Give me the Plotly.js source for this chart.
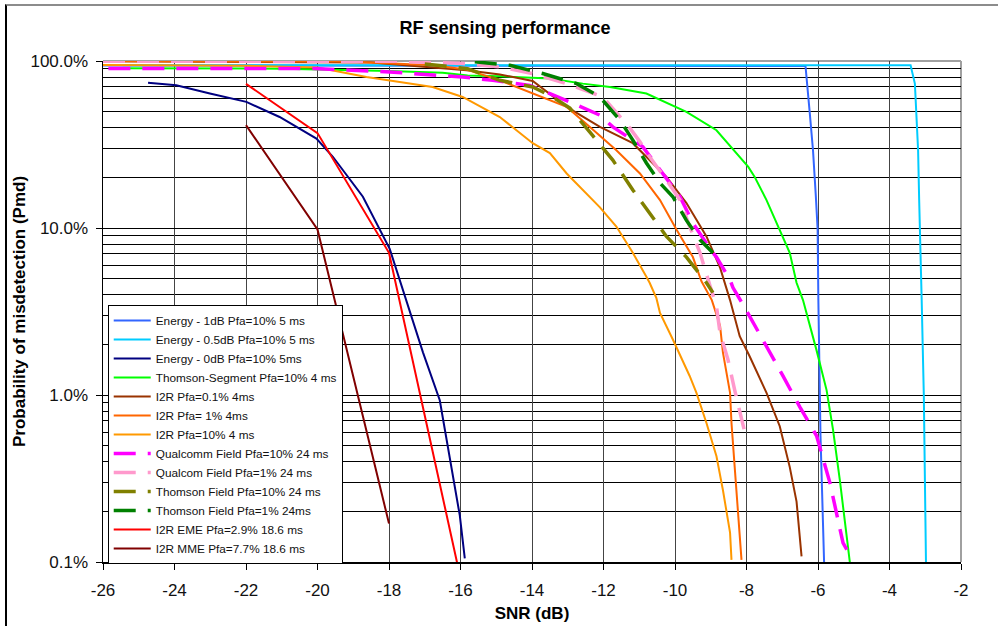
<!DOCTYPE html>
<html>
<head>
<meta charset="utf-8">
<script src="https://cdn.plot.ly/plotly-3.0.1.min.js"></script>
<style>
  html, body { margin: 0; padding: 0; background: #fff; }
  #wrap { position: relative; width: 998px; height: 626px; overflow: hidden; }
  #chart { position: absolute; left: 0; top: 0; width: 998px; height: 626px; }
  #frame { position: absolute; left: 5px; top: 4px; width: 1100px; height: 700px;
           border-left: 2px solid #000; border-top: 2px solid #8c8c8c; pointer-events: none; }
</style>
</head>
<body>
<div id="wrap"><div id="chart"></div><div id="frame"></div></div>
<script>
// ---- Data (SNR in dB, Pmd in %) ----
const seriesNames = [
  "Energy - 1dB Pfa=10% 5 ms",
  "Energy - 0.5dB Pfa=10% 5 ms",
  "Energy - 0dB Pfa=10% 5ms",
  "Thomson-Segment Pfa=10% 4 ms",
  "I2R Pfa=0.1% 4ms",
  "I2R Pfa= 1% 4ms",
  "I2R Pfa=10% 4 ms",
  "Qualcomm Field Pfa=10% 24 ms",
  "Qualcom Field Pfa=1% 24 ms",
  "Thomson Field Pfa=10% 24 ms",
  "Thomson Field Pfa=1% 24ms",
  "I2R EME Pfa=2.9% 18.6 ms",
  "I2R MME Pfa=7.7% 18.6 ms"
];

const energy1dB_x = [-26, -6.35, -6.23, -6.14, -6.06, -6.01, -5.99, -5.97, -5.93, -5.83];
const energy1dB_y = [94, 93.3, 48.7, 29.2, 15.4, 9.8, 3.7, 2.2, 0.57, 0.10];

const energy05dB_x = [-25.45, -3.41, -3.29, -3.24, -3.20, -3.17, -3.13, -3.10, -3.04, -2.98];
const energy05dB_y = [94.2, 94.2, 73.2, 46.2, 29.2, 14.7, 7.5, 3.7, 1.0, 0.10];

const energy0dB_x = [-24.74, -23.95, -23.01, -21.99, -21.06, -20.03, -19.57, -18.73, -17.98, -17.05, -16.58, -16.02, -15.88];
const energy0dB_y = [74.2, 71.5, 63.9, 56.9, 46.2, 34.3, 26.7, 15.4, 7.5, 1.8, 0.93, 0.19, 0.105];

const thomsonSeg_x = [-25.8, -21, -18, -16.5, -15.8, -14.9, -13.5, -12.58, -11.82, -10.80, -9.68, -8.84, -7.95, -7.77, -7.44, -6.98, -6.79, -6.60, -6.42, -6.04, -5.76, -5.58, -5.39, -5.11];
const thomsonSeg_y = [90.5, 90, 87, 85, 82, 81.0, 78.5, 73.2, 69.9, 63.9, 49.6, 38.5, 23.2, 20.2, 14.7, 8.9, 7.1, 4.7, 3.7, 1.85, 1.07, 0.62, 0.31, 0.10];

const i2r01_x = [-26, -18.5, -15.83, -14.90, -13.98, -13.03, -12.10, -11.18, -10.24, -9.68, -9.12, -8.90, -8.74, -8.66, -8.46, -8.19, -7.91, -7.44, -7.07, -6.79, -6.60, -6.46];
const i2r01_y = [99.6, 98, 88, 83, 76, 53.1, 40.3, 32.2, 20.2, 14.1, 8.9, 7.0, 5.8, 5.1, 3.7, 2.25, 1.7, 1.03, 0.65, 0.37, 0.23, 0.108];

const i2r1_x = [-26, -19.2, -16.78, -15.83, -14.90, -13.98, -13.03, -12.38, -11.64, -10.98, -10.42, -9.96, -9.50, -9.26, -8.97, -8.74, -8.66, -8.46, -8.42, -8.33, -8.24, -8.14];
const i2r1_y = [99.6, 99.4, 94.2, 89, 76.6, 63.9, 53.1, 40.3, 29.2, 21.2, 14.7, 9.8, 6.7, 4.8, 3.7, 2.6, 1.8, 1.03, 0.68, 0.37, 0.19, 0.103];

const i2r10_x = [-26, -22, -20.0, -19.57, -18.63, -17.70, -16.78, -15.94, -14.90, -13.98, -13.50, -13.03, -12.10, -11.64, -11.18, -10.80, -10.71, -10.52, -10.42, -10.06, -9.59, -9.40, -9.12, -8.84, -8.66, -8.46, -8.42];
const i2r10_y = [94.5, 93.5, 91.5, 88.0, 80.2, 74.9, 69.9, 60.9, 46.2, 32.2, 28.1, 21.2, 13.3, 10.2, 7.1, 5.1, 4.7, 3.8, 3.1, 2.15, 1.3, 1.03, 0.68, 0.43, 0.27, 0.15, 0.103];

const qcom10_x = [-25.85, -20.1, -17.98, -15.94, -15.10, -14.06, -12.86, -12.10, -11.74, -10.90, -9.86, -9.50, -8.94, -8.84, -8.46, -8.38, -8.00, -7.54, -6.98, -6.51, -6.04, -5.67, -5.30, -5.16];
const qcom10_y = [90.1, 90.1, 86, 80.2, 76.6, 71.5, 55.8, 47.4, 40.3, 30.6, 15.4, 10.7, 7.1, 6.7, 4.9, 4.4, 3.2, 2.15, 1.3, 0.85, 0.57, 0.30, 0.13, 0.115];

const qcom1_x = [-26, -17.7, -15.94, -14.90, -13.98, -13.03, -12.02, -11.64, -11.26, -10.98, -10.71, -10.24, -9.86, -9.59, -9.30, -9.02, -8.84, -8.74, -8.52, -8.33, -8.14, -8.05];
const qcom1_y = [99.6, 99.6, 96.5, 92.1, 84.1, 73.2, 60.9, 48.7, 39.6, 32.8, 26.7, 19.4, 14.7, 10.2, 7.1, 4.5, 3.4, 2.35, 1.63, 1.07, 0.74, 0.60];

const thomField10_x = [-17, -15.8, -14.90, -13.98, -13.42, -12.94, -12.30, -11.74, -11.18, -10.71, -10.24, -9.68, -9.12, -8.94];
const thomField10_y = [96, 90, 76.6, 69.9, 60.9, 52.2, 35.7, 25.5, 16.9, 12.3, 8.9, 6.7, 4.7, 4.1];

const thomField1_x = [-15.6, -14.62, -13.70, -12.75, -12.10, -11.54, -11.18, -10.80, -10.42, -10.06, -9.68, -9.30, -8.94];
const thomField1_y = [99, 94.2, 84.1, 73.2, 60.9, 44.2, 33.6, 24.5, 18.6, 15.4, 11.1, 8.5, 7.1];

const i2rEME_x = [-22, -20, -18, -16];
const i2rEME_y = [73, 37, 7.1, 0.08];

const i2rMME_x = [-22, -20, -18];
const i2rMME_y = [41.3, 9.8, 0.17];

const xTickVals = [-26, -24, -22, -20, -18, -16, -14, -12, -10, -8, -6, -4, -2];
const xTickText = ["-26", "-24", "-22", "-20", "-18", "-16", "-14", "-12", "-10", "-8", "-6", "-4", "-2"];
const yTickVals = [0.1, 1, 10, 100];
const yTickText = ["0.1%", "1.0%", "10.0%", "100.0%"];

// ---- Styles ----
const seriesX = [energy1dB_x, energy05dB_x, energy0dB_x, thomsonSeg_x, i2r01_x, i2r1_x, i2r10_x,
                 qcom10_x, qcom1_x, thomField10_x, thomField1_x, i2rEME_x, i2rMME_x];
const seriesY = [energy1dB_y, energy05dB_y, energy0dB_y, thomsonSeg_y, i2r01_y, i2r1_y, i2r10_y,
                 qcom10_y, qcom1_y, thomField10_y, thomField1_y, i2rEME_y, i2rMME_y];
const colors = ["#3366FF", "#00CCFF", "#000080", "#00FF00", "#993300", "#FF6600", "#FF9900",
                "#FF00FF", "#FF99CC", "#808000", "#008000", "#FF0000", "#800000"];
const dashed = [false, false, false, false, false, false, false, true, true, true, true, false, false];

const traces = seriesNames.map((name, i) => ({
  type: "scatter",
  mode: "lines",
  name: name,
  x: seriesX[i],
  y: seriesY[i],
  line: {
    color: colors[i],
    width: dashed[i] ? 3.5 : 2,
    dash: dashed[i] ? "22px,12px" : "solid"
  }
}));

const font = "Liberation Sans, Arial, sans-serif";

const layout = {
  width: 998,
  height: 626,
  margin: { l: 103, r: 37, t: 61, b: 64 },
  paper_bgcolor: "#ffffff",
  plot_bgcolor: "rgba(0,0,0,0)",
  showlegend: true,
  title: {
    text: "<b>RF sensing performance</b>",
    font: { family: font, size: 18, color: "#000" },
    x: 0.506, xref: "container", xanchor: "center",
    y: 0.955, yref: "container", yanchor: "middle"
  },
  xaxis: {
    range: [-26, -2],
    tickvals: xTickVals,
    ticktext: xTickText,
    ticks: "outside", ticklen: 6, tickcolor: "#000", tickwidth: 1,
    showline: true, linecolor: "#000", linewidth: 1.5,
    showgrid: true, gridcolor: "#444", gridwidth: 1,
    zeroline: false,
    tickfont: { family: font, size: 17, color: "#111" },
    ticklabelstandoff: 6,
    title: { text: "<b>SNR (dB)</b>", font: { family: font, size: 17, color: "#000" }, standoff: 8 }
  },
  yaxis: {
    type: "log",
    range: [-1, 2],
    tickvals: yTickVals,
    ticktext: yTickText,
    ticks: "outside", ticklen: 6, tickcolor: "#000", tickwidth: 1,
    showline: true, linecolor: "#000", linewidth: 1.5,
    showgrid: true, gridcolor: "#000", gridwidth: 1,
    minor: { dtick: "D1", showgrid: true, gridcolor: "#000", gridwidth: 1, ticks: "" },
    zeroline: false,
    tickfont: { family: font, size: 17, color: "#111" },
    ticklabelstandoff: 4,
    title: { text: "<b>Probability of misdetection (Pmd)</b>", font: { family: font, size: 17, color: "#000" }, standoff: 0 }
  },
  legend: {
    x: 0.0055, y: 0.513, xanchor: "left", yanchor: "top",
    bgcolor: "#ffffff", bordercolor: "#000", borderwidth: 1,
    font: { family: font, size: 11.8, color: "#111" },
    tracegroupgap: 0, itemwidth: 37
  },
  shapes: [
    { type: "line", xref: "paper", yref: "paper", x0: 0, x1: 1, y0: 1, y1: 1,
      line: { color: "#a0a0a0", width: 2 }, layer: "below" },
    { type: "line", xref: "paper", yref: "paper", x0: 1, x1: 1, y0: 0, y1: 1,
      line: { color: "#a0a0a0", width: 2 }, layer: "below" }
  ]
};

Plotly.newPlot("chart", traces, layout, { staticPlot: true, displayModeBar: false });
</script>
</body>
</html>
